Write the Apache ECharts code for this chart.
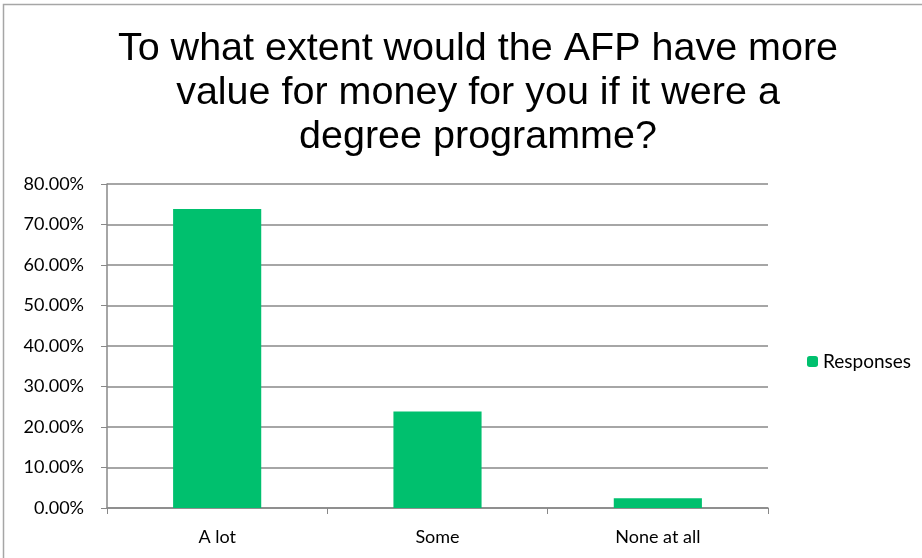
<!DOCTYPE html>
<html>
<head>
<meta charset="utf-8">
<script src="https://cdn.jsdelivr.net/npm/echarts@6/dist/echarts.min.js"></script>
<style>
html,body{margin:0;padding:0;background:#fff;}
#chart{width:922px;height:558px;}
</style>
</head>
<body>
<div id="chart"></div>
<script>
const categories = ['A lot', 'Some', 'None at all'];
const responses = [73.81, 23.81, 2.38];
const yTicks = [0, 10, 20, 30, 40, 50, 60, 70, 80];
const titleText = 'To what extent would the AFP have more\nvalue for money for you if it were a\ndegree programme?';

const chart = echarts.init(document.getElementById('chart'));
chart.setOption({
  animation: false,
  backgroundColor: '#ffffff',
  title: {
    text: titleText,
    left: 473,
    top: 22,
    textAlign: 'center',
    textStyle: {
      fontFamily: 'Liberation Sans, Arial, sans-serif',
      fontSize: 39.5,
      fontWeight: 'normal',
      color: '#000000',
      lineHeight: 44
    }
  },
  graphic: [{
    type: 'rect',
    shape: {x: 3.5, y: 4.5, width: 940, height: 580},
    style: {fill: 'none', stroke: '#a6a6a6', lineWidth: 1.5},
    silent: true
  }],
  legend: {
    data: ['Responses'],
    left: 802,
    top: 347,
    itemWidth: 11,
    itemHeight: 11,
    itemGap: 6,
    textStyle: {fontFamily: 'Lato, Noto Sans, sans-serif', fontSize: 19, color: '#000'}
  },
  grid: {left: 107, right: 154, top: 184, bottom: 50, containLabel: false},
  xAxis: {
    type: 'category',
    data: categories,
    axisLine: {lineStyle: {color: '#888888', width: 1.5}},
    axisTick: {show: true, alignWithLabel: false, length: 6, lineStyle: {color: '#888888'}},
    axisLabel: {fontFamily: 'Lato, Noto Sans, sans-serif', fontSize: 18, color: '#000', margin: 20}
  },
  yAxis: {
    type: 'value',
    min: 0,
    max: 80,
    interval: 10,
    axisLine: {show: true, lineStyle: {color: '#888888', width: 1.5}},
    axisTick: {show: true, inside: false, length: 6, lineStyle: {color: '#888888'}},
    splitLine: {show: true, lineStyle: {color: '#888888', width: 1.5}},
    axisLabel: {
      fontFamily: 'Lato, Noto Sans, sans-serif',
      fontSize: 18,
      color: '#000',
      margin: 23,
      formatter: v => (yTicks.includes(v) ? v.toFixed(2) + '%' : '')
    }
  },
  series: [{
    name: 'Responses',
    type: 'bar',
    data: responses,
    barWidth: '40%',
    itemStyle: {color: '#00c06e'}
  }]
});
</script>
</body>
</html>
